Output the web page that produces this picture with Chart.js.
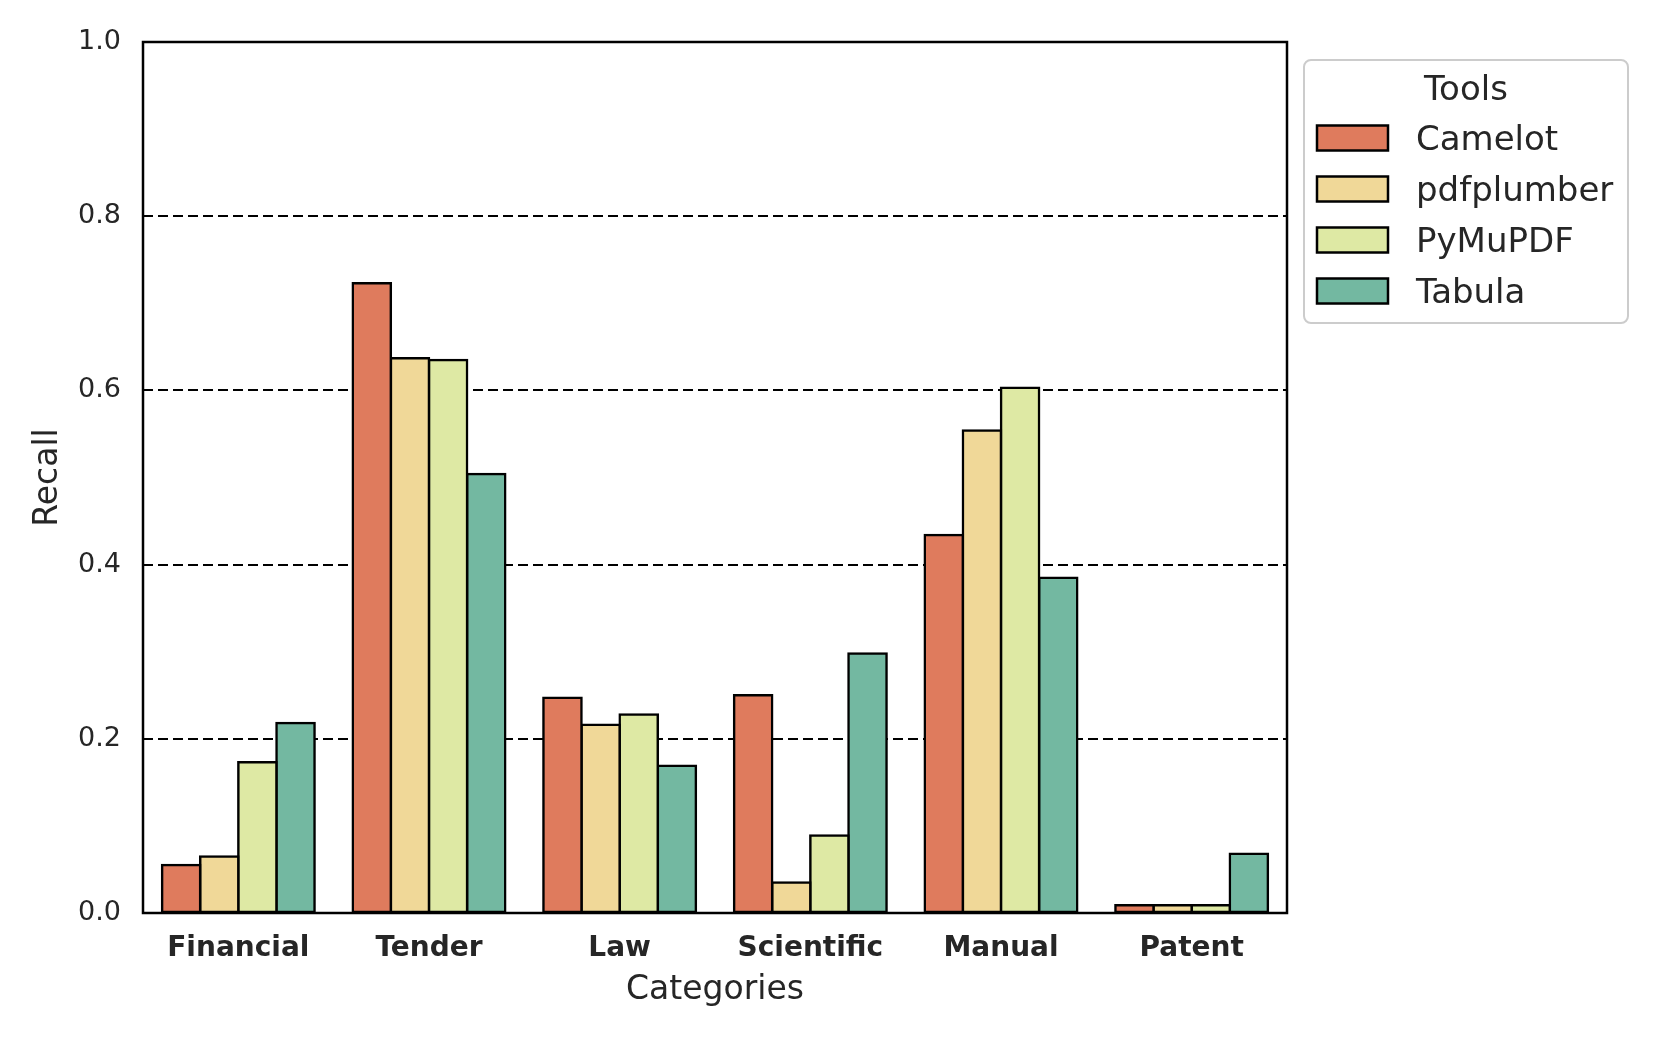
<!DOCTYPE html>
<html>
<head>
<meta charset="utf-8">
<script src="https://cdn.jsdelivr.net/npm/chart.js@4.4.1/dist/chart.umd.min.js"></script>
<style>
  body { margin: 0; background: #fff; }
  canvas { display: block; }
</style>
</head>
<body>
<canvas id="myChart" width="1661" height="1038"></canvas>
<script>
// recall per category
const categories = ["Financial", "Tender", "Law", "Scientific", "Manual", "Patent"];
const toolNames = ["Camelot", "pdfplumber", "PyMuPDF", "Tabula"];
const camelot = [0.055, 0.723, 0.247, 0.250, 0.434, 0.009];
const pdfplumber = [0.065, 0.637, 0.216, 0.035, 0.554, 0.009];
const pymupdf = [0.173, 0.635, 0.228, 0.089, 0.603, 0.009];
const tabula = [0.218, 0.504, 0.169, 0.298, 0.385, 0.068];
const yTicks = [0.0, 0.2, 0.4, 0.6, 0.8, 1.0];

const toolColors = ["#df7b5d", "#f0d898", "#dee9a4", "#73b8a1"];
const textColor = "#262626";
const fontFamily = "'DejaVu Sans', sans-serif";

const seriesValues = [camelot, pdfplumber, pymupdf, tabula];

// full black frame round the plot area
const framePlugin = {
  id: "frame",
  afterDatasetsDraw(chart) {
    const a = chart.chartArea;
    const ctx = chart.ctx;
    ctx.save();
    ctx.strokeStyle = "#000";
    ctx.lineWidth = 2.5;
    ctx.strokeRect(a.left, a.top, a.right - a.left, a.bottom - a.top);
    ctx.restore();
  }
};

// legend box drawn outside the axes, like matplotlib's bbox_to_anchor legend
const legendPlugin = {
  id: "sideLegend",
  afterDraw(chart) {
    const ctx = chart.ctx;
    const box = { x: 1304, y: 60, w: 324, h: 263 };
    ctx.save();
    ctx.fillStyle = "rgba(255,255,255,0.8)";
    ctx.strokeStyle = "#cccccc";
    ctx.lineWidth = 2;
    ctx.beginPath();
    ctx.roundRect(box.x, box.y, box.w, box.h, 7);
    ctx.fill();
    ctx.stroke();

    ctx.fillStyle = textColor;
    ctx.font = "34px " + fontFamily;
    ctx.textAlign = "center";
    ctx.textBaseline = "middle";
    ctx.fillText("Tools", box.x + box.w / 2, 91);

    ctx.textAlign = "left";
    chart.data.datasets.forEach((ds, i) => {
      const cy = 138 + i * 51;
      ctx.fillStyle = ds.backgroundColor;
      ctx.fillRect(1317, cy - 12.5, 71, 25);
      ctx.strokeStyle = "#000";
      ctx.lineWidth = 2.5;
      ctx.strokeRect(1317, cy - 12.5, 71, 25);
      ctx.fillStyle = textColor;
      ctx.fillText(ds.label, 1416, cy + 3);
    });
    ctx.restore();
  }
};

const ctx = document.getElementById("myChart").getContext("2d");
const chart = new Chart(ctx, {
  type: "bar",
  data: {
    labels: categories,
    datasets: toolNames.map((name, i) => ({
      label: name,
      data: seriesValues[i],
      backgroundColor: toolColors[i],
      borderColor: "#000",
      borderWidth: 2.5,
      borderSkipped: false,
      inflateAmount: 1.25,
      categoryPercentage: 0.8,
      barPercentage: 1.0
    }))
  },
  options: {
    responsive: false,
    devicePixelRatio: 1,
    animation: false,
    layout: { padding: { top: 42, right: 374, bottom: 0, left: 0 } },
    plugins: {
      legend: { display: false },
      tooltip: { enabled: false }
    },
    scales: {
      x: {
        afterFit: scale => { scale.height = 125; },
        grid: { display: false, drawTicks: false },
        border: { display: false },
        ticks: {
          color: textColor,
          padding: 19,
          font: { family: fontFamily, size: 28, weight: "bold" }
        },
        title: {
          display: true,
          text: "Categories",
          color: textColor,
          padding: { top: 0, bottom: 28 },
          font: { family: fontFamily, size: 33 }
        }
      },
      y: {
        min: 0,
        max: 1,
        afterFit: scale => { scale.width = 143; },
        afterBuildTicks: scale => { scale.ticks = yTicks.map(v => ({ value: v })); },
        grid: {
          drawTicks: false,
          color: c => (c.tick && (c.tick.value === 0 || c.tick.value === 1)) ? "rgba(0,0,0,0)" : "#000",
          lineWidth: 2
        },
        border: { display: false, dash: [10, 5] },
        ticks: {
          color: textColor,
          padding: 22,
          font: { family: fontFamily, size: 27 },
          callback: v => Number(v).toFixed(1)
        },
        title: {
          display: true,
          text: "Recall",
          color: textColor,
          padding: { top: 29, bottom: 0 },
          font: { family: fontFamily, size: 33 }
        }
      }
    }
  },
  plugins: [framePlugin, legendPlugin]
});
</script>
</body>
</html>
